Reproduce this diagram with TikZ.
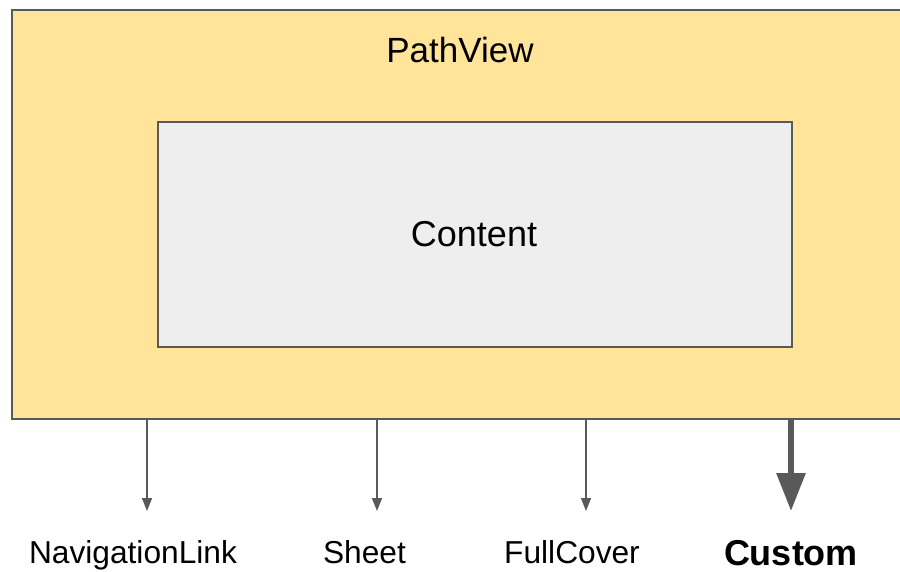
\documentclass[tikz,border=0pt]{standalone}
\usepackage{fontspec}
\setmainfont{Liberation Sans}
\usetikzlibrary{arrows.meta}
\definecolor{boxfill}{HTML}{FFE499}
\definecolor{innerfill}{HTML}{EEEEEE}
\definecolor{edge}{HTML}{595959}
\tikzset{
  box/.style={draw=edge, line width=2pt, inner sep=0pt},
  thinarrow/.style={draw=edge, line width=1.5pt, -{Triangle[length=13pt,width=10pt]}},
  thickarrow/.style={draw=edge, line width=6pt, -{Triangle[length=38pt,width=28pt]}},
  lbl/.style={font=\fontsize{31.7}{38}\selectfont, anchor=base, inner sep=0pt},
}
\begin{document}
\begin{tikzpicture}[x=1pt,y=-1pt]
\useasboundingbox (0,0) rectangle (900,571);
\fill[white] (0,0) rectangle (900,571);
\node[box, fill=boxfill, minimum width=900pt, minimum height=409pt, anchor=north west] (outer) at (11,9) {};
\node[box, fill=innerfill, minimum width=634pt, minimum height=225pt, anchor=north west] (inner) at (157,121) {};
\node[font=\fontsize{35}{42}\selectfont, anchor=base, inner sep=0pt] (title) at (460,62) {PathView};
\node[font=\fontsize{36}{43}\selectfont, anchor=base, inner sep=0pt] (content) at (474,246) {Content};
\node[lbl] (nav) at (133,563) {NavigationLink};
\node[lbl] (sheet) at (364.5,563) {Sheet};
\node[lbl] (full) at (572,563) {FullCover};
\node[font=\bfseries\fontsize{36}{43}\selectfont, anchor=base, inner sep=0pt] (custom) at (791,565) {Custom};
\coordinate (a1s) at (147,420); \coordinate (a1e) at (147,511);
\coordinate (a2s) at (377,420); \coordinate (a2e) at (377,511);
\coordinate (a3s) at (586,420); \coordinate (a3e) at (586,511);
\coordinate (a4s) at (791,420); \coordinate (a4e) at (791,511);
\draw[thinarrow] (a1s) -- (a1e);
\draw[thinarrow] (a2s) -- (a2e);
\draw[thinarrow] (a3s) -- (a3e);
\draw[thickarrow] (a4s) -- (a4e);
\end{tikzpicture}
\end{document}
